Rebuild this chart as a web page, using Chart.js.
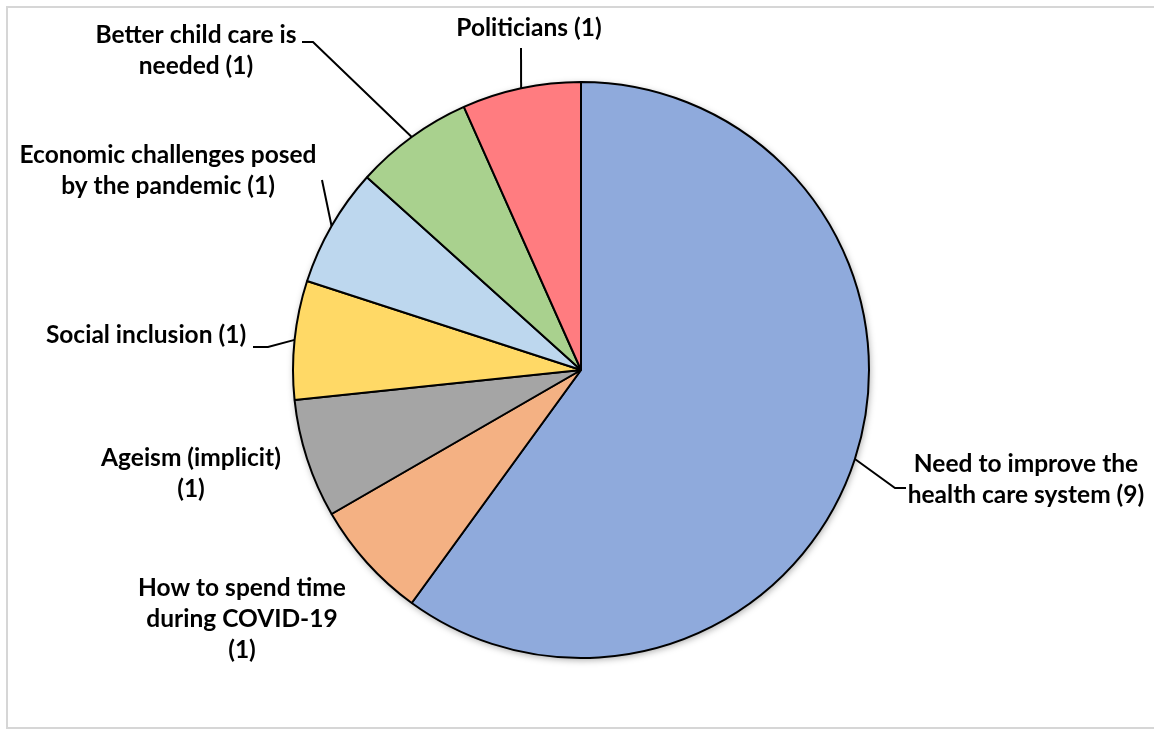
<!DOCTYPE html>
<html><head><meta charset="utf-8">
<script src="https://cdn.jsdelivr.net/npm/chart.js@4"></script>
<style>html,body{margin:0;padding:0;background:#fff;} canvas{display:block;}</style>
</head><body>
<canvas id="c" width="1154" height="730"></canvas>
<script>
// ---- data ----
const categories = [
  "Need to improve the health care system",
  "How to spend time during COVID-19",
  "Ageism (implicit)",
  "Social inclusion",
  "Economic challenges posed by the pandemic",
  "Better child care is needed",
  "Politicians"
];
const counts = [9, 1, 1, 1, 1, 1, 1];
// label wrapping as in the original; {n} is replaced by the count
const labelText = [
  ["Need to improve the", "health care system ({n})"],
  ["How to spend time", "during COVID-19", "({n})"],
  ["Ageism (implicit)", "({n})"],
  ["Social inclusion ({n})"],
  ["Economic challenges posed", "by the pandemic ({n})"],
  ["Better child care is", "needed ({n})"],
  ["Politicians ({n})"]
];
const sliceColors = ["#8FAADC", "#F4B183", "#A5A5A5", "#FFD966", "#BDD7EE", "#A9D18E", "#FF7C80"];

// ---- label layout (styles/positions) ----
const labelLayout = [
  {x: 1026, y: 472, lh: 31, leader: [[906, 488], [895, 488]]},
  {x: 242, y: 596, lh: 31, leader: null},
  {x: 191, y: 466, lh: 31, leader: null},
  {x: 146, y: 343, lh: 31, leader: [[253, 347], [268, 347]]},
  {x: 168, y: 163, lh: 31, leader: [[322, 180]]},
  {x: 196, y: 43, lh: 31, leader: [[302, 42], [313, 42]]},
  {x: 529, y: 36, lh: 31, leader: [[521, 48]]}
];
const LABEL_FONT = "bold 24.5px Lato";

const framePlugin = {
  id: 'frame',
  beforeDraw(chart) {
    const ctx = chart.ctx;
    ctx.save();
    ctx.strokeStyle = '#d6d6d6';
    ctx.lineWidth = 2;
    ctx.beginPath();
    ctx.moveTo(1154, 7); ctx.lineTo(7, 7); ctx.lineTo(7, 728); ctx.lineTo(1154, 728);
    ctx.stroke();
    ctx.restore();
  }
};

const shadowPlugin = {
  id: 'pieShadow',
  beforeDatasetsDraw(chart) {
    const el = chart.getDatasetMeta(0).data[0];
    if (!el) return;
    const ctx = chart.ctx;
    ctx.save();
    ctx.shadowColor = 'rgba(0,0,0,0.35)';
    ctx.shadowBlur = 7;
    ctx.shadowOffsetX = 1;
    ctx.shadowOffsetY = 2;
    ctx.fillStyle = '#ffffff';
    ctx.beginPath();
    ctx.arc(el.x, el.y, el.outerRadius, 0, Math.PI * 2);
    ctx.fill();
    ctx.restore();
  }
};

const labelPlugin = {
  id: 'pieLabels',
  afterDatasetsDraw(chart) {
    const ctx = chart.ctx;
    const meta = chart.getDatasetMeta(0);
    ctx.save();
    ctx.font = LABEL_FONT;
    ctx.fillStyle = '#000';
    ctx.textAlign = 'center';
    ctx.textBaseline = 'alphabetic';
    meta.data.forEach((el, i) => {
      const lay = labelLayout[i];
      const lines = labelText[i].map(s => s.replace('{n}', counts[i]));
      lines.forEach((s, k) => ctx.fillText(s, lay.x, lay.y + k * lay.lh));
      if (lay.leader) {
        const mid = (el.startAngle + el.endAngle) / 2;
        const px = el.x + Math.cos(mid) * el.outerRadius;
        const py = el.y + Math.sin(mid) * el.outerRadius;
        ctx.strokeStyle = '#000';
        ctx.lineWidth = 2;
        ctx.beginPath();
        ctx.moveTo(lay.leader[0][0], lay.leader[0][1]);
        for (let k = 1; k < lay.leader.length; k++) ctx.lineTo(lay.leader[k][0], lay.leader[k][1]);
        ctx.lineTo(px, py);
        ctx.stroke();
      }
    });
    ctx.restore();
  }
};

new Chart(document.getElementById('c'), {
  type: 'pie',
  data: {
    labels: categories,
    datasets: [{
      data: counts,
      backgroundColor: sliceColors,
      borderColor: '#000',
      borderWidth: 2
    }]
  },
  options: {
    responsive: false,
    animation: false,
    radius: 288,
    layout: {padding: {left: 293, right: 285, top: 82, bottom: 72}},
    plugins: {legend: {display: false}, tooltip: {enabled: false}}
  },
  plugins: [framePlugin, shadowPlugin, labelPlugin]
});
</script>
</body></html>
